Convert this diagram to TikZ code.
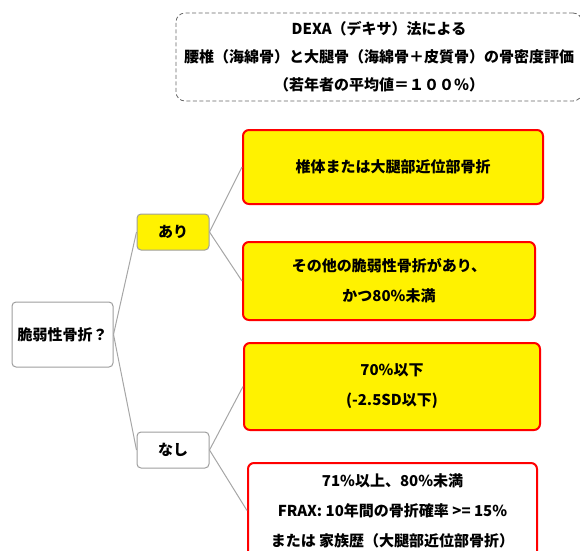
\documentclass[tikz,border=0pt]{standalone}
\usepackage{fontspec}
\setmainfont{Noto Sans CJK JP}
\begin{document}
\begin{tikzpicture}[x=1pt,y=-1pt,
  txt/.style={font=\bfseries\fontsize{15}{30}\selectfont, align=center, inner sep=0pt},
  gbox/.style={txt, draw=black!38, line width=1pt, rounded corners=4pt, fill=white},
  rbox/.style={txt, draw=red, line width=2pt, rounded corners=6pt, fill=yellow},
  dbox/.style={txt, draw=black!60, line width=0.8pt, dash pattern=on 4pt off 2.5pt, rounded corners=9pt, font=\bfseries\fontsize{15}{28}\selectfont},
  conn/.style={draw=black!35, line width=1pt}]
\useasboundingbox (0,0) rectangle (580,550);
\begin{scope}
\clip (0,0) rectangle (580,550);
\node[dbox, minimum width=406pt, minimum height=88pt] (top) at (379,57)
  {DEXA（デキサ）法による\\腰椎（海綿骨）と大腿骨（海綿骨＋皮質骨）の骨密度評価\\（若年者の平均値＝１００％）};
\node[gbox, minimum width=101pt, minimum height=65pt] (q) at (62.5,334.5) {脆弱性骨折？};
\node[gbox, fill=yellow, minimum width=72pt, minimum height=36pt] (ari) at (173,232) {あり};
\node[gbox, minimum width=72pt, minimum height=36pt] (nashi) at (173,450) {なし};
\node[rbox, minimum width=300pt, minimum height=74pt] (b1) at (393,167) {椎体または大腿部近位部骨折};
\node[rbox, minimum width=292pt, minimum height=78pt] (b2) at (389,281) {その他の脆弱性骨折があり、\\かつ80\%未満};
\node[rbox, minimum width=296pt, minimum height=87pt] (b3) at (392,386.5) {70\%以下\\(-2.5SD以下)};
\node[rbox, fill=white, minimum width=289pt, minimum height=95pt] (b4) at (392.5,510.5) {71\%以上、80\%未満\\FRAX: 10年間の骨折確率 >= 15\%\\または 家族歴（大腿部近位部骨折）};
\end{scope}
\draw[conn] (q.east) -- (ari.west);
\draw[conn] (q.east) -- (nashi.west);
\draw[conn] (ari.east) -- (b1.west);
\draw[conn] (ari.east) -- (b2.west);
\draw[conn] (nashi.east) -- (b3.west);
\draw[conn] (nashi.east) -- (b4.west);
\end{tikzpicture}
\end{document}
